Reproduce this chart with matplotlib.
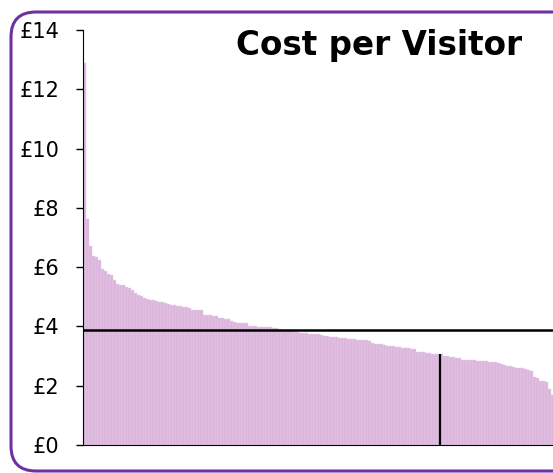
import matplotlib.pyplot as plt
from matplotlib.patches import FancyBboxPatch
from matplotlib.transforms import IdentityTransform

# cost per visitor for each site, sorted high to low
costs = [
    12.9, 7.62, 6.71, 6.38, 6.34, 6.24, 5.94, 5.87, 5.77, 5.74,
    5.57, 5.43, 5.40, 5.40, 5.33, 5.30, 5.23, 5.13, 5.06, 5.03,
    4.96, 4.93, 4.89, 4.89, 4.86, 4.82, 4.82, 4.79, 4.76, 4.72,
    4.72, 4.69, 4.69, 4.66, 4.66, 4.62, 4.55, 4.55, 4.55, 4.55,
    4.39, 4.39, 4.39, 4.35, 4.35, 4.28, 4.28, 4.25, 4.25, 4.18,
    4.15, 4.12, 4.12, 4.12, 4.12, 4.02, 4.02, 4.02, 3.98, 3.98,
    3.98, 3.98, 3.98, 3.95, 3.95, 3.92, 3.86, 3.85, 3.84, 3.83,
    3.82, 3.81, 3.78, 3.78, 3.78, 3.74, 3.74, 3.74, 3.74, 3.71,
    3.68, 3.68, 3.64, 3.64, 3.64, 3.61, 3.61, 3.61, 3.58, 3.58,
    3.58, 3.54, 3.54, 3.54, 3.54, 3.51, 3.44, 3.41, 3.41, 3.41,
    3.37, 3.34, 3.34, 3.34, 3.31, 3.31, 3.27, 3.27, 3.27, 3.24,
    3.24, 3.14, 3.14, 3.14, 3.10, 3.10, 3.07, 3.07, 3.07, 3.06,
    3.00, 3.00, 2.97, 2.97, 2.94, 2.94, 2.87, 2.87, 2.87, 2.87,
    2.87, 2.83, 2.83, 2.83, 2.83, 2.80, 2.80, 2.80, 2.77, 2.73,
    2.70, 2.67, 2.66, 2.63, 2.60, 2.60, 2.60, 2.56, 2.53, 2.50,
    2.29, 2.26, 2.16, 2.16, 2.13, 1.89, 1.69,
]
average = 3.88
marker_pos = 118.5
marker_height = 3.07
yticks = [0, 2, 4, 6, 8, 10, 12, 14]
ylabels = ['£' + str(v) for v in yticks]

fig = plt.figure(figsize=(5.53, 4.73), dpi=100)
ax = fig.add_axes([83 / 553, 1 - 445 / 473, 1 - 83 / 553, (445 - 30) / 473])

ax.bar(range(len(costs)), costs, width=1.0, color='#dbb5db',
       edgecolor='#e9d0e9', linewidth=0.3)
ax.axhline(average, color='black', lw=1.8)
ax.vlines(marker_pos, 0, marker_height, color='black', lw=1.6)

ax.set_xlim(-0.5, -0.5 + 470 / 3)
ax.set_ylim(0, 14)
ax.set_yticks(yticks)
ax.set_yticklabels(ylabels)
ax.set_xticks([])
ax.tick_params(axis='y', length=5, pad=12, labelsize=15, width=1)
for s in ['top', 'right']:
    ax.spines[s].set_visible(False)

fig.text(379 / 553, 1 - 45 / 473, 'Cost per Visitor', fontsize=23.5,
         fontweight='bold', ha='center', va='center')

frame = FancyBboxPatch((36, 27), 557 - 36, 436 - 27,
                       boxstyle='round,pad=25', transform=IdentityTransform(),
                       fill=False, edgecolor='#7030a0', lw=2.2)
fig.patches.append(frame)

fig.savefig('out.png', dpi=100)
